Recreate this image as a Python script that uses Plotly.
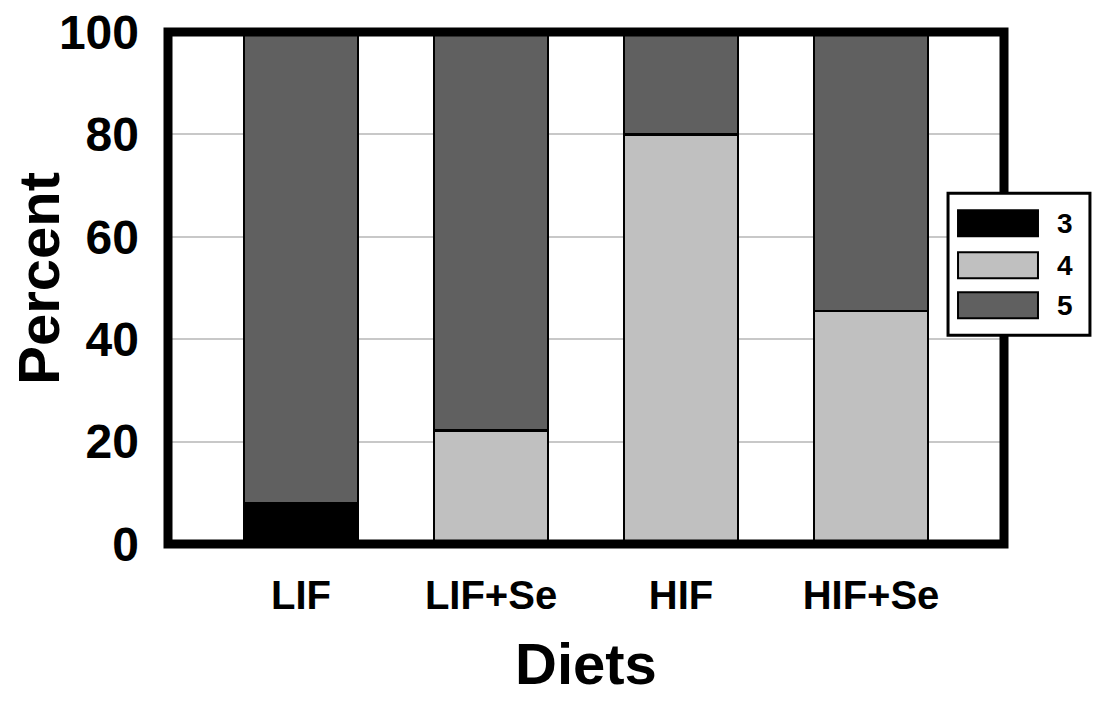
import plotly.graph_objects as go

# ---- data ----
diets = ["LIF", "LIF+Se", "HIF", "HIF+Se"]
series_names = ["3", "4", "5"]
score3 = [8.0, 0.0, 0.0, 0.0]
score4 = [0.0, 22.2, 80.0, 45.5]
score5 = [92.0, 77.8, 20.0, 54.5]
colors = ["#000000", "#c0c0c0", "#606060"]
y_ticks = [0, 20, 40, 60, 80, 100]

W, H = 1095, 705
L, R, T, B = 167.5, 1004, 31.5, 544
FONT = "Arial, Liberation Sans, sans-serif"

def px_x(x):
    return (x - L) / (R - L)

def px_y(y):
    return (B - y) / (B - T)

fig = go.Figure()
for name, vals, col in zip(series_names, [score3, score4, score5], colors):
    fig.add_trace(go.Bar(
        x=list(range(len(diets))), y=vals, name=name, width=0.6,
        marker=dict(color=col, line=dict(color="black", width=2.5)),
        showlegend=False,
    ))

fig.update_layout(
    width=W, height=H, barmode="stack", showlegend=False,
    margin=dict(l=L, r=W - R, t=T, b=H - B, pad=0, autoexpand=False),
    paper_bgcolor="white", plot_bgcolor="white",
    font=dict(family=FONT, color="black"),
    xaxis=dict(range=[-0.7, 3.7], tickmode="array", automargin=False,
               tickvals=list(range(len(diets))), ticktext=diets,
               showgrid=False, zeroline=False, showline=False, ticks="",
               tickfont=dict(size=40, family=FONT, weight="bold"),
               ticklabelstandoff=24),
    yaxis=dict(range=[0, 100], tickmode="array", tickvals=y_ticks, automargin=False,
               ticktext=[str(v) for v in y_ticks],
               showgrid=True, gridcolor="#c8c8c8", gridwidth=1.5,
               zeroline=False, showline=False, ticks="",
               tickfont=dict(size=48, family=FONT, weight="bold"),
               ticklabelstandoff=28),
)

shapes = [dict(type="rect", xref="paper", yref="paper", x0=0, x1=1, y0=0, y1=1,
               line=dict(color="black", width=9), fillcolor="rgba(0,0,0,0)", layer="above")]
# legend box
shapes.append(dict(type="rect", xref="paper", yref="paper",
                   x0=px_x(948), x1=px_x(1090), y0=px_y(335), y1=px_y(193),
                   line=dict(color="black", width=3), fillcolor="white", layer="above"))
annotations = []
centers = [223, 265, 305]
for name, col, cy in zip(series_names, colors, centers):
    shapes.append(dict(type="rect", xref="paper", yref="paper",
                       x0=px_x(958), x1=px_x(1038), y0=px_y(cy + 13), y1=px_y(cy - 13),
                       line=dict(color="black", width=2), fillcolor=col, layer="above"))
    annotations.append(dict(text=name, xref="paper", yref="paper",
                            x=px_x(1065), y=px_y(cy), showarrow=False,
                            xanchor="center", yanchor="middle",
                            font=dict(size=28, family=FONT, weight="bold", color="black")))

annotations.append(dict(text="Diets", xref="paper", yref="paper", x=0.5, y=0,
                        xanchor="center", yanchor="middle", yshift=-(663 - B),
                        showarrow=False,
                        font=dict(size=58, family=FONT, weight="bold", color="black")))
annotations.append(dict(text="Percent", xref="paper", yref="paper", x=0, y=px_y(278),
                        xanchor="center", yanchor="middle", xshift=-(L - 38),
                        textangle=-90, showarrow=False,
                        font=dict(size=58, family=FONT, weight="bold", color="black")))

fig.update_layout(shapes=shapes, annotations=annotations)
fig.write_html("out.html", config={"displayModeBar": False},
               post_script="document.body.style.margin='0';document.body.style.overflow='hidden';")
